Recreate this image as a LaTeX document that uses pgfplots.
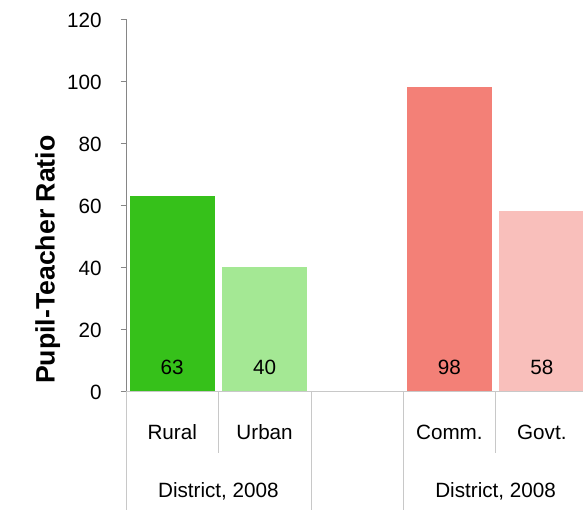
\documentclass[border=0pt]{standalone}
\usepackage{pgfplots}
\pgfplotsset{compat=1.18}
\usepackage{fontspec}
\setmainfont{Liberation Sans}
\definecolor{cRural}{HTML}{36C11A}
\definecolor{cUrban}{HTML}{A4E894}
\definecolor{cComm}{HTML}{F38077}
\definecolor{cGovt}{HTML}{F9BFBB}
\definecolor{axgray}{HTML}{868686}
\definecolor{sepgray}{HTML}{C8C8C8}
\newcommand\lblfont{\fontsize{15.5}{18}\selectfont}
\begin{document}
\begin{tikzpicture}
\useasboundingbox (-94.5pt,-89.25pt) rectangle (342.75pt,293.25pt);
\begin{axis}[
  at={(0,0)}, anchor=south west,
  scale only axis, width=342.75pt, height=279pt,
  xmin=-0.5, xmax=4.446, ymin=0, ymax=120,
  ytick={0,20,...,120},
  xtick={0,1,3,4}, xticklabels={Rural,Urban,Comm.,Govt.},
  extra x ticks={0.5,3.5},
  extra x tick labels={{District, 2008},{District, 2008}},
  extra x tick style={major tick length=0pt, xticklabel style={yshift=-48pt}},
  axis x line*=bottom, axis y line*=left,
  x axis line style={draw=sepgray, -},
  y axis line style={draw=axgray, -},
  xtick style={draw=none},
  ytick style={draw=axgray},
  tick align=outside, major tick length=4pt,
  xticklabel style={anchor=base, yshift=-32.25pt, font=\lblfont},
  yticklabel style={anchor=base east, inner sep=0pt, xshift=-14pt, yshift=-6.75pt, font=\lblfont},
  /pgf/number format/assume math mode=true,
  ylabel={\fontsize{20}{24}\selectfont\bfseries Pupil-Teacher Ratio},
  ylabel style={at={(axis description cs:-0.171,0.353)}, anchor=center},
  clip=false,
]
\addplot[ybar, bar width=0.92, bar shift=0pt, fill=cRural, draw=none] coordinates {(0,63)};
\addplot[ybar, bar width=0.92, bar shift=0pt, fill=cUrban, draw=none] coordinates {(1,40)};
\addplot[ybar, bar width=0.92, bar shift=0pt, fill=cComm, draw=none] coordinates {(3,98)};
\addplot[ybar, bar width=0.92, bar shift=0pt, fill=cGovt, draw=none] coordinates {(4,58)};
\addplot[draw=none, mark=none, nodes near coords, point meta=explicit symbolic,
  every node near coord/.style={anchor=base, inner sep=0pt, font=\lblfont}]
  table[meta=label] {
x y label
0 5.2 63
1 5.2 40
3 5.2 98
4 5.2 58
};
\draw[sepgray] (axis cs:-0.5,0) -- ++(0pt,-89.25pt);
\draw[sepgray] (axis cs:1.5,0) -- ++(0pt,-89.25pt);
\draw[sepgray] (axis cs:2.5,0) -- ++(0pt,-89.25pt);
\draw[sepgray] (axis cs:0.5,0) -- ++(0pt,-46.5pt);
\draw[sepgray] (axis cs:3.5,0) -- ++(0pt,-46.5pt);
\end{axis}
\end{tikzpicture}
\end{document}
